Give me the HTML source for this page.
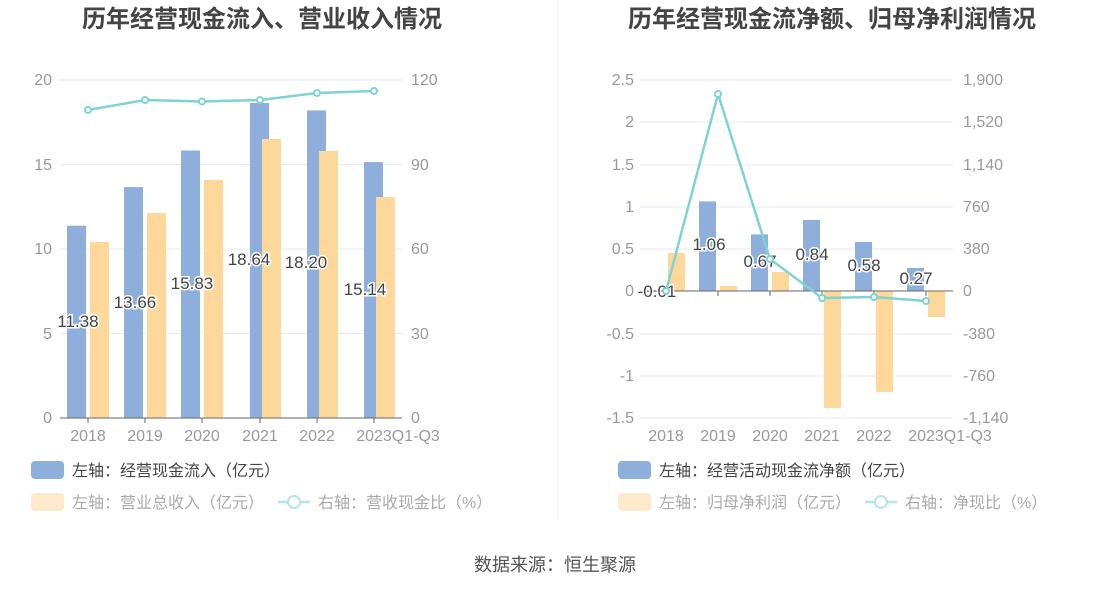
<!DOCTYPE html><html><head><meta charset="utf-8"><style>body{margin:0;background:#fff}svg{display:block}text{font-family:"Liberation Sans","Noto Sans CJK SC",sans-serif}</style></head><body>
<svg width="1110" height="590" viewBox="0 0 1110 590">
<line x1="558" y1="0" x2="558" y2="520" stroke="#eef0f4"/>
<text x="262" y="27" font-size="24" font-weight="bold" fill="#444" text-anchor="middle">历年经营现金流入、营业收入情况</text>
<text x="832" y="27" font-size="24" font-weight="bold" fill="#444" text-anchor="middle">历年经营现金流净额、归母净利润情况</text>
<g stroke="#e6eaf3"><line x1="60" x2="402" y1="80" y2="80"/><line x1="60" x2="402" y1="164.5" y2="164.5"/><line x1="60" x2="402" y1="249" y2="249"/><line x1="60" x2="402" y1="333.5" y2="333.5"/></g>
<g font-size="16" fill="#999" text-anchor="end"><text x="52" y="85">20</text><text x="52" y="170">15</text><text x="52" y="254">10</text><text x="52" y="339">5</text><text x="52" y="423">0</text></g>
<g font-size="16" fill="#999"><text x="411" y="85">120</text><text x="411" y="170">90</text><text x="411" y="254">60</text><text x="411" y="339">30</text><text x="411" y="423">0</text></g>
<g fill="#8eaedb"><rect x="67" y="225.7" width="19" height="192.3"/><rect x="124" y="187.1" width="19" height="230.9"/><rect x="181" y="150.5" width="19" height="267.5"/><rect x="250" y="103" width="19" height="315"/><rect x="307" y="110.4" width="19" height="307.6"/><rect x="364" y="162.1" width="19" height="255.9"/></g>
<g fill="#fed89b"><rect x="90" y="242" width="19" height="176"/><rect x="147" y="213" width="19" height="205"/><rect x="204" y="180" width="19" height="238"/><rect x="262" y="139" width="19" height="279"/><rect x="319" y="151" width="19" height="267"/><rect x="376" y="197" width="19" height="221"/></g>
<line x1="60" x2="402" y1="418" y2="418" stroke="#666"/>
<g stroke="#666"><line x1="88" x2="88" y1="418" y2="423"/><line x1="145" x2="145" y1="418" y2="423"/><line x1="202" x2="202" y1="418" y2="423"/><line x1="260" x2="260" y1="418" y2="423"/><line x1="317" x2="317" y1="418" y2="423"/><line x1="374" x2="374" y1="418" y2="423"/></g>
<g font-size="16" fill="#999" text-anchor="middle"><text x="88" y="441">2018</text><text x="145" y="441">2019</text><text x="202" y="441">2020</text><text x="260" y="441">2021</text><text x="317" y="441">2022</text><text x="398" y="441">2023Q1-Q3</text></g>
<g font-size="17" fill="#444" text-anchor="middle" stroke="#fff" stroke-width="3" paint-order="stroke"><text x="78" y="327">11.38</text><text x="135" y="308">13.66</text><text x="192" y="289">15.83</text><text x="249" y="265">18.64</text><text x="306" y="268">18.20</text><text x="365" y="295">15.14</text></g>
<polyline points="88,110 145,100 202,101.5 260,100 317,93 374,91" fill="none" stroke="#7fd3d3" stroke-width="2.5"/>
<g fill="#fff" stroke="#7fd3d3" stroke-width="2"><circle cx="88" cy="110" r="3"/><circle cx="145" cy="100" r="3"/><circle cx="202" cy="101.5" r="3"/><circle cx="260" cy="100" r="3"/><circle cx="317" cy="93" r="3"/><circle cx="374" cy="91" r="3"/></g>
<g stroke="#e6eaf3"><line x1="640" x2="953" y1="80" y2="80"/><line x1="640" x2="953" y1="122" y2="122"/><line x1="640" x2="953" y1="165" y2="165"/><line x1="640" x2="953" y1="207" y2="207"/><line x1="640" x2="953" y1="249" y2="249"/><line x1="640" x2="953" y1="334" y2="334"/><line x1="640" x2="953" y1="376" y2="376"/><line x1="640" x2="953" y1="418" y2="418"/></g>
<g font-size="16" fill="#999" text-anchor="end"><text x="634" y="85">2.5</text><text x="634" y="127">2</text><text x="634" y="170">1.5</text><text x="634" y="212">1</text><text x="634" y="254">0.5</text><text x="634" y="296">0</text><text x="634" y="339">-0.5</text><text x="634" y="381">-1</text><text x="634" y="423">-1.5</text></g>
<g font-size="16" fill="#999"><text x="963" y="85">1,900</text><text x="963" y="127">1,520</text><text x="963" y="170">1,140</text><text x="963" y="212">760</text><text x="963" y="254">380</text><text x="963" y="296">0</text><text x="963" y="339">-380</text><text x="963" y="381">-760</text><text x="963" y="423">-1,140</text></g>
<g fill="#8eaedb"><rect x="647" y="291" width="17" height="1"/><rect x="699" y="201.4" width="17" height="89.6"/><rect x="751" y="234.4" width="17" height="56.6"/><rect x="803" y="220" width="17" height="71"/><rect x="855" y="242" width="17" height="49"/><rect x="907" y="268" width="17" height="23"/></g>
<g fill="#fed89b"><rect x="668" y="253" width="17" height="38"/><rect x="720" y="286" width="17" height="5"/><rect x="772" y="272" width="17" height="19"/><rect x="824" y="291" width="17" height="117"/><rect x="876" y="291" width="17" height="101"/><rect x="928" y="291" width="17" height="26"/></g>
<line x1="640" x2="953" y1="291" y2="291" stroke="#666"/>
<g stroke="#666"><line x1="718" x2="718" y1="291" y2="296"/><line x1="770" x2="770" y1="291" y2="296"/><line x1="822" x2="822" y1="291" y2="296"/><line x1="874" x2="874" y1="291" y2="296"/><line x1="926" x2="926" y1="291" y2="296"/></g>
<g font-size="16" fill="#999" text-anchor="middle"><text x="666" y="441">2018</text><text x="718" y="441">2019</text><text x="770" y="441">2020</text><text x="822" y="441">2021</text><text x="874" y="441">2022</text><text x="950" y="441">2023Q1-Q3</text></g>
<g font-size="17" fill="#444" text-anchor="middle" stroke="#fff" stroke-width="3" paint-order="stroke"><text x="657" y="297">-0.01</text><text x="709" y="250">1.06</text><text x="760" y="267">0.67</text><text x="812" y="260">0.84</text><text x="864" y="271">0.58</text><text x="916" y="284">0.27</text></g>
<polyline points="666,291 718,94 770,259 822,298 874,297 926,301" fill="none" stroke="#7fd3d3" stroke-width="2.5"/>
<g fill="#fff" stroke="#7fd3d3" stroke-width="2"><circle cx="666" cy="291" r="3"/><circle cx="718" cy="94" r="3"/><circle cx="770" cy="259" r="3"/><circle cx="822" cy="298" r="3"/><circle cx="874" cy="297" r="3"/><circle cx="926" cy="301" r="3"/></g>
<rect x="31" y="461" width="33" height="18" rx="4" fill="#8eaedb"/>
<text x="72" y="476" font-size="16" fill="#444">左轴：经营现金流入（亿元）</text>
<rect x="31" y="493" width="33" height="18" rx="4" fill="#fde9cc"/>
<text x="72" y="508" font-size="16" fill="#aaa">左轴：营业总收入（亿元）</text>
<line x1="278" x2="310" y1="502" y2="502" stroke="#b4e6e6" stroke-width="2.5"/><circle cx="294" cy="502" r="6" fill="#fff" stroke="#b4e6e6" stroke-width="2"/>
<text x="318" y="508" font-size="16" fill="#aaa">右轴：营收现金比（%）</text>
<rect x="618" y="461" width="33" height="18" rx="4" fill="#8eaedb"/>
<text x="659" y="476" font-size="16" fill="#444">左轴：经营活动现金流净额（亿元）</text>
<rect x="618" y="493" width="33" height="18" rx="4" fill="#fde9cc"/>
<text x="659" y="508" font-size="16" fill="#aaa">左轴：归母净利润（亿元）</text>
<line x1="865" x2="897" y1="502" y2="502" stroke="#b4e6e6" stroke-width="2.5"/><circle cx="881" cy="502" r="6" fill="#fff" stroke="#b4e6e6" stroke-width="2"/>
<text x="905" y="508" font-size="16" fill="#aaa">右轴：净现比（%）</text>
<text x="555" y="571" font-size="18" fill="#555" text-anchor="middle">数据来源：恒生聚源</text>
</svg></body></html>
